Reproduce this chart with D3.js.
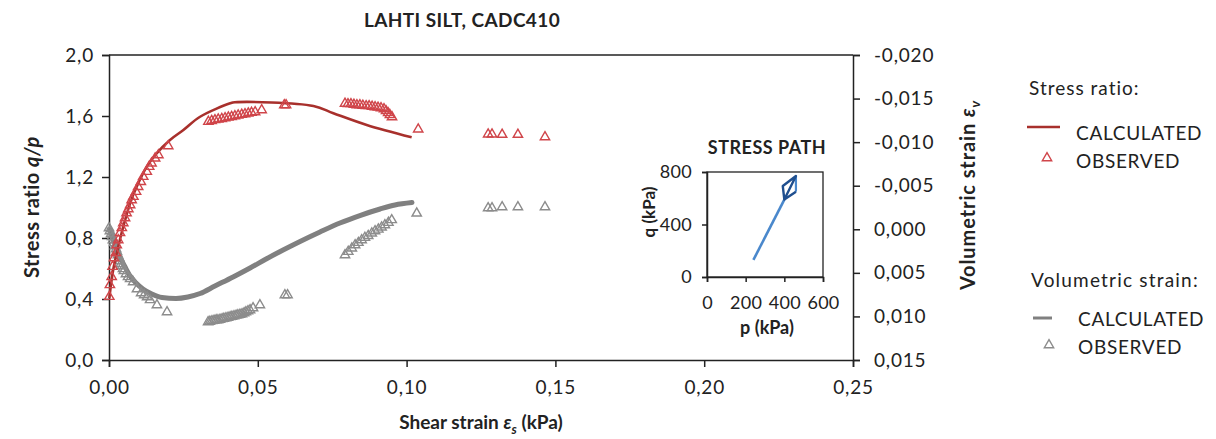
<!DOCTYPE html>
<html>
<head>
<meta charset="utf-8">
<script src="https://cdn.jsdelivr.net/npm/d3@7"></script>
<style>
  body { margin: 0; background: #fff; }
  svg text { font-family: Lato, "Open Sans", sans-serif; fill: #222; }
  .axis path, .axis line { stroke: #222; stroke-width: 1.5; }
  .axis text { font-size: 19px; letter-spacing: 0.8px; }
</style>
</head>
<body>
<div id="chart"></div>
<script>
// stress ratio, calculated
const calcStrain = [0.0001, 0.0014, 0.0031, 0.0048, 0.0071, 0.0093, 0.0127, 0.0160, 0.0205, 0.0250, 0.0306, 0.0407, 0.0423, 0.0687, 0.0754, 0.0866, 0.1017];
const calcRatio = [0.405, 0.590, 0.743, 0.874, 1.028, 1.136, 1.268, 1.355, 1.443, 1.508, 1.595, 1.683, 1.690, 1.666, 1.618, 1.541, 1.460];

// stress ratio, observed
const obsStrain = [0.0001, 0.0003, 0.0009, 0.0012, 0.0017, 0.0023, 0.0026, 0.0031, 0.0037, 0.0043, 0.0048, 0.0054, 0.0059, 0.0065, 0.0071, 0.0076, 0.0082, 0.0091, 0.0098, 0.0107, 0.0115, 0.0127, 0.0135, 0.0143, 0.0155, 0.0166, 0.0199,
  0.0334, 0.0345, 0.0356, 0.0367, 0.0379, 0.0390, 0.0401, 0.0412, 0.0423, 0.0434, 0.0446, 0.0457, 0.0468, 0.0479, 0.0491, 0.0513, 0.0589, 0.0595,
  0.0793, 0.0803, 0.0813, 0.0823, 0.0833, 0.0843, 0.0853, 0.0864, 0.0874, 0.0884, 0.0894, 0.0904, 0.0914, 0.0924, 0.0931, 0.0938, 0.0944, 0.0951, 0.1039,
  0.1274, 0.1287, 0.1321, 0.1374, 0.1465];
const obsRatio = [0.415, 0.492, 0.546, 0.612, 0.669, 0.702, 0.754, 0.787, 0.833, 0.866, 0.898, 0.931, 0.964, 0.990, 1.016, 1.049, 1.071, 1.104, 1.136, 1.169, 1.202, 1.235, 1.268, 1.290, 1.323, 1.344, 1.403,
  1.563, 1.569, 1.574, 1.578, 1.582, 1.587, 1.591, 1.595, 1.600, 1.605, 1.609, 1.613, 1.618, 1.622, 1.626, 1.639, 1.672, 1.672,
  1.682, 1.679, 1.679, 1.675, 1.672, 1.672, 1.669, 1.666, 1.666, 1.662, 1.659, 1.656, 1.652, 1.646, 1.633, 1.620, 1.607, 1.593, 1.513,
  1.480, 1.480, 1.478, 1.478, 1.462];

// volumetric strain, calculated
const volCalcStrain = [0, 0.0010, 0.0024, 0.0037, 0.0054, 0.0071, 0.0091, 0.0114, 0.0144, 0.0178, 0.0225, 0.0265, 0.0306, 0.0356, 0.0417, 0.0474, 0.0531, 0.0585, 0.0642, 0.0709, 0.0776, 0.0843, 0.0911, 0.0961, 0.1018];
const volCalc = [0.0000, 0.00088, 0.00203, 0.00318, 0.00433, 0.00536, 0.00616, 0.00685, 0.00743, 0.00783, 0.00794, 0.00777, 0.00737, 0.00651, 0.00547, 0.00444, 0.00335, 0.00238, 0.00140, 0.00031, -0.00072, -0.00158, -0.00233, -0.00279, -0.00307];

// volumetric strain, observed
const volObsStrain = [0.0000, 0.0003, 0.0007, 0.0010, 0.0013, 0.0017, 0.0020, 0.0024, 0.0027, 0.0030, 0.0034, 0.0037, 0.0040, 0.0044, 0.0047, 0.0050, 0.0057, 0.0064, 0.0071, 0.0081, 0.0094, 0.0108, 0.0118, 0.0128, 0.0138, 0.0161, 0.0195,
  0.0333, 0.0339, 0.0346, 0.0353, 0.0360, 0.0366, 0.0373, 0.0380, 0.0386, 0.0393, 0.0400, 0.0407, 0.0413, 0.0420, 0.0427, 0.0433, 0.0440, 0.0447, 0.0454, 0.0460, 0.0467, 0.0474, 0.0484, 0.0507, 0.0591, 0.0600,
  0.0793, 0.0804, 0.0816, 0.0827, 0.0838, 0.0849, 0.0860, 0.0871, 0.0883, 0.0894, 0.0905, 0.0916, 0.0927, 0.0939, 0.0950, 0.1034,
  0.1274, 0.1287, 0.1321, 0.1374, 0.1465];
const volObs = [-0.00015, 0.00020, 0.00054, 0.00088, 0.00123, 0.00157, 0.00192, 0.00226, 0.00260, 0.00295, 0.00329, 0.00364, 0.00398, 0.00421, 0.00455, 0.00478, 0.00513, 0.00547, 0.00570, 0.00605, 0.00685, 0.00731, 0.00754, 0.00777, 0.00811, 0.00869, 0.00949,
  0.01064, 0.01058, 0.01052, 0.01047, 0.01041, 0.01041, 0.01035, 0.01029, 0.01024, 0.01018, 0.01012, 0.01006, 0.01001, 0.00995, 0.00989, 0.00984, 0.00978, 0.00972, 0.00961, 0.00949, 0.00938, 0.00926, 0.00903, 0.00869, 0.00754, 0.00754,
  0.00295, 0.00257, 0.00218, 0.00180, 0.00154, 0.00123, 0.00096, 0.00074, 0.00046, 0.00020, 0.00001, -0.00023, -0.00049, -0.00076, -0.00107, -0.00183,
  -0.00244, -0.00244, -0.00256, -0.00256, -0.00256];

// stress path inset (p, q in kPa)
const pathP = [240, 400];
const pathQ = [130, 590];
const pathRightP = [460, 460];
const pathRightQ = [650, 770];
const loopP = [400, 392, 460, 400, 460];
const loopQ = [590, 693, 770, 590, 650];

// ticks
const xTicks = [0, 0.05, 0.10, 0.15, 0.20, 0.25];
const leftTicks = [0, 0.4, 0.8, 1.2, 1.6, 2.0];
const rightTicks = [-0.020, -0.015, -0.010, -0.005, 0, 0.005, 0.010, 0.015];
const insetPTicks = [0, 200, 400, 600];
const insetQTicks = [0, 400, 800];

const width = 1216;
const height = 439;
const plot = {left: 109, right: 853, top: 55, bottom: 360};

const locale = d3.formatLocale({decimal: ',', thousands: '.', grouping: [3], currency: ['', ''], minus: '-'});

const svg = d3.select('#chart').append('svg')
  .attr('width', width)
  .attr('height', height);

// scales
const x = d3.scaleLinear().domain([0, 0.25]).range([plot.left, plot.right]);
const yL = d3.scaleLinear().domain([0, 2.0]).range([plot.bottom, plot.top]);
const yR = d3.scaleLinear().domain([-0.020, 0.015]).range([plot.top, plot.bottom]);

// top border
svg.append('line')
  .attr('x1', plot.left).attr('x2', plot.right)
  .attr('y1', plot.top).attr('y2', plot.top)
  .attr('stroke', '#222').attr('stroke-width', 1.5);

// axes
svg.append('g').attr('class', 'axis')
  .attr('transform', `translate(0,${plot.bottom})`)
  .call(d3.axisBottom(x).tickValues(xTicks).tickFormat(locale.format('.2f')).tickSizeOuter(0).tickSize(7).tickPadding(14));
svg.append('g').attr('class', 'axis')
  .attr('transform', `translate(${plot.left},0)`)
  .call(d3.axisLeft(yL).tickValues(leftTicks).tickFormat(locale.format('.1f')).tickSizeOuter(0).tickSize(7).tickPadding(8));
svg.append('g').attr('class', 'axis')
  .attr('transform', `translate(${plot.right},0)`)
  .call(d3.axisRight(yR).tickValues(rightTicks).tickFormat(locale.format('.3f')).tickSizeOuter(0).tickSize(7).tickPadding(14));

// axis titles
svg.append('text')
  .attr('x', 462).attr('y', 27)
  .attr('text-anchor', 'middle')
  .style('font-size', '19px').style('font-weight', 'bold').style('letter-spacing', '0.4px')
  .text('LAHTI SILT, CADC410');

const xt = svg.append('text')
  .attr('x', 481).attr('y', 429)
  .attr('text-anchor', 'middle')
  .style('font-size', '19px').style('font-weight', 'bold');
xt.append('tspan').text('Shear strain ');
xt.append('tspan').style('font-style', 'italic').text('ε');
xt.append('tspan').style('font-style', 'italic').style('font-size', '13px').attr('dy', 5).text('s');
xt.append('tspan').attr('dy', -5).text(' (kPa)');

const ylt = svg.append('text')
  .attr('transform', 'translate(39,207) rotate(-90)')
  .attr('text-anchor', 'middle')
  .style('font-size', '20px').style('font-weight', 'bold').style('letter-spacing', '0.5px');
ylt.append('tspan').text('Stress ratio ');
ylt.append('tspan').style('font-style', 'italic').text('q/p');

const yrt = svg.append('text')
  .attr('transform', 'translate(975,195) rotate(-90)')
  .attr('text-anchor', 'middle')
  .style('font-size', '20px').style('font-weight', 'bold').style('letter-spacing', '0.9px');
yrt.append('tspan').text('Volumetric strain ');
yrt.append('tspan').style('font-style', 'italic').text('ε');
yrt.append('tspan').style('font-style', 'italic').style('font-size', '14px').attr('dy', 5).text('v');

const red = '#a8302c';
const redObs = '#d0454a';
const grey = '#808080';
const greyObs = '#8c8c8c';
const tri = d3.symbol().type(d3.symbolTriangle).size(38);

// volumetric strain calculated
svg.append('path')
  .datum(d3.range(volCalc.length))
  .attr('fill', 'none').attr('stroke', grey).attr('stroke-width', 5)
  .attr('stroke-linejoin', 'round').attr('stroke-linecap', 'round')
  .attr('d', d3.line().curve(d3.curveMonotoneX).x(i => x(volCalcStrain[i])).y(i => yR(volCalc[i])));

// volumetric strain observed
svg.append('g').selectAll('path')
  .data(d3.range(volObs.length))
  .enter().append('path')
  .attr('d', tri)
  .attr('transform', i => `translate(${x(volObsStrain[i])},${yR(volObs[i])})`)
  .attr('fill', 'none').attr('stroke', greyObs).attr('stroke-width', 1.4);

// stress ratio calculated
svg.append('path')
  .datum(d3.range(calcRatio.length))
  .attr('fill', 'none').attr('stroke', red).attr('stroke-width', 2.6)
  .attr('stroke-linejoin', 'round')
  .attr('d', d3.line().curve(d3.curveCatmullRom).x(i => x(calcStrain[i])).y(i => yL(calcRatio[i])));

// stress ratio observed
svg.append('g').selectAll('path')
  .data(d3.range(obsRatio.length))
  .enter().append('path')
  .attr('d', tri)
  .attr('transform', i => `translate(${x(obsStrain[i])},${yL(obsRatio[i])})`)
  .attr('fill', 'none').attr('stroke', redObs).attr('stroke-width', 1.4);

// inset: stress path
const inset = {left: 707, right: 823, top: 172, bottom: 277};
const px = d3.scaleLinear().domain([0, 600]).range([inset.left, inset.right]);
const qy = d3.scaleLinear().domain([0, 800]).range([inset.bottom, inset.top]);

svg.append('rect')
  .attr('x', inset.left).attr('y', inset.top)
  .attr('width', inset.right - inset.left).attr('height', inset.bottom - inset.top)
  .attr('fill', 'none').attr('stroke', '#222').attr('stroke-width', 1.3);

const ia = svg.append('g').attr('class', 'axis').attr('transform', `translate(0,${inset.bottom})`)
  .call(d3.axisBottom(px).tickValues(insetPTicks).tickSizeOuter(0).tickSize(5).tickPadding(14));
const ib = svg.append('g').attr('class', 'axis').attr('transform', `translate(${inset.left},0)`)
  .call(d3.axisLeft(qy).tickValues(insetQTicks).tickSizeOuter(0).tickSize(5).tickPadding(10));
ia.selectAll('text').style('font-size', '18px').style('letter-spacing', '0.3px');
ib.selectAll('text').style('font-size', '18px').style('letter-spacing', '0.3px');
ia.selectAll('path, line').attr('stroke-width', 1.3);
ib.selectAll('path, line').attr('stroke-width', 1.3);

svg.append('text')
  .attr('x', 767).attr('y', 154)
  .attr('text-anchor', 'middle')
  .style('font-size', '18px').style('font-weight', 'bold').style('letter-spacing', '0.5px')
  .text('STRESS PATH');
svg.append('text')
  .attr('x', 767).attr('y', 334)
  .attr('text-anchor', 'middle')
  .style('font-size', '18px').style('font-weight', 'bold')
  .text('p (kPa)');
svg.append('text')
  .attr('transform', 'translate(655,212) rotate(-90)')
  .attr('text-anchor', 'middle')
  .style('font-size', '17px').style('font-weight', 'bold')
  .text('q (kPa)');

const pathLine = (ps, qs) => d3.line().x(i => px(ps[i])).y(i => qy(qs[i]))(d3.range(ps.length));
svg.append('path').attr('d', pathLine(pathP, pathQ))
  .attr('fill', 'none').attr('stroke', '#4a88cc').attr('stroke-width', 2.6);
svg.append('path').attr('d', pathLine(pathRightP, pathRightQ))
  .attr('fill', 'none').attr('stroke', '#4a88cc').attr('stroke-width', 2.2);
svg.append('path').attr('d', pathLine(loopP, loopQ))
  .attr('fill', 'none').attr('stroke', '#1f4f8f').attr('stroke-width', 2.4).attr('stroke-linejoin', 'round');

// legend
const legend = svg.append('g').style('font-size', '19px');
legend.append('text').attr('x', 1029).attr('y', 95).style('letter-spacing', '1px').text('Stress ratio:');
legend.append('line').attr('x1', 1027).attr('x2', 1060).attr('y1', 127).attr('y2', 127)
  .attr('stroke', red).attr('stroke-width', 2.6);
legend.append('text').attr('x', 1076).attr('y', 140).style('letter-spacing', '0.7px').text('CALCULATED');
legend.append('path').attr('d', tri).attr('transform', 'translate(1047,158)')
  .attr('fill', 'none').attr('stroke', redObs).attr('stroke-width', 1.4);
legend.append('text').attr('x', 1076).attr('y', 168).style('letter-spacing', '0.7px').text('OBSERVED');

legend.append('text').attr('x', 1031).attr('y', 287).style('letter-spacing', '1.2px').text('Volumetric strain:');
legend.append('line').attr('x1', 1033).attr('x2', 1052).attr('y1', 318).attr('y2', 318)
  .attr('stroke', grey).attr('stroke-width', 3);
legend.append('text').attr('x', 1078).attr('y', 326).style('letter-spacing', '0.7px').text('CALCULATED');
legend.append('path').attr('d', tri).attr('transform', 'translate(1049,345)')
  .attr('fill', 'none').attr('stroke', greyObs).attr('stroke-width', 1.4);
legend.append('text').attr('x', 1078).attr('y', 354).style('letter-spacing', '0.7px').text('OBSERVED');
</script>
</body>
</html>
